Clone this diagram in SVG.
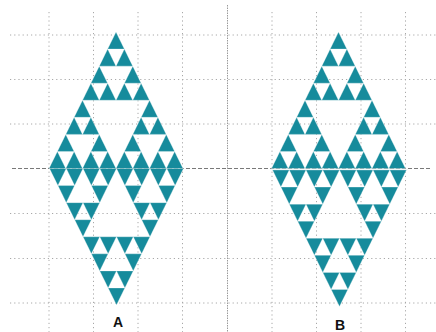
<svg xmlns="http://www.w3.org/2000/svg" xmlns:xlink="http://www.w3.org/1999/xlink" width="436" height="332" viewBox="0 0 436 332">
<style>
.grid{stroke:#a8a8a8;stroke-width:1;stroke-dasharray:1.2 3;fill:none}
.axis{stroke:#6a6a6a;stroke-width:0.9;stroke-dasharray:4 2;fill:none}
.vaxis{stroke:#9a9a9a;stroke-width:1;stroke-dasharray:1.5 1;fill:none}
.tri{fill:#168b9c;stroke:#ffffff;stroke-width:0.3}
.lbl{font-family:"Liberation Sans",Arial,sans-serif;font-weight:bold;font-size:14px;fill:#111;text-anchor:middle}
</style>
<defs>
<polygon id="t0" class="tri" points="0,0 -8.375,17.0625 8.375,17.0625"/>
<g id="t1"><use xlink:href="#t0"/><use xlink:href="#t0" x="-8.375" y="17.0625"/><use xlink:href="#t0" x="8.375" y="17.0625"/></g>
<g id="t2"><use xlink:href="#t1"/><use xlink:href="#t1" x="-16.75" y="34.125"/><use xlink:href="#t1" x="16.75" y="34.125"/></g>
<g id="t3"><use xlink:href="#t2"/><use xlink:href="#t2" x="-33.5" y="68.25"/><use xlink:href="#t2" x="33.5" y="68.25"/></g>
</defs>
<rect width="436" height="332" fill="#ffffff"/>
<g id="grid">
<path class="grid" d="M49,12V332M93.5,12V332M138,12V332M182.5,12V332M272,12V332M316.5,12V332M361,12V332M405.5,12V332"/>
<path class="grid" d="M10,35H436M10,79.5H436M10,124H436M10,213.5H436M10,258.5H436M10,303H436"/>
<path class="vaxis" d="M227.5,5V332"/>
<path class="axis" d="M12,168.5H432"/>
</g>
<g id="shapeA">
<use xlink:href="#t3" x="116" y="32"/>
<use xlink:href="#t3" transform="translate(116.5,305) scale(1,-1)"/>
</g>
<g id="shapeB">
<use xlink:href="#t3" x="338.5" y="32"/>
<use xlink:href="#t3" transform="translate(339.5,306.5) scale(1,-1)"/>
<line x1="270" y1="169.3" x2="408" y2="169.3" stroke="#e8f2f4" stroke-width="0.8"/>
</g>
<g id="labels">
<text class="lbl" x="118" y="327">A</text>
<text class="lbl" x="340" y="330">B</text>
</g>
</svg>
